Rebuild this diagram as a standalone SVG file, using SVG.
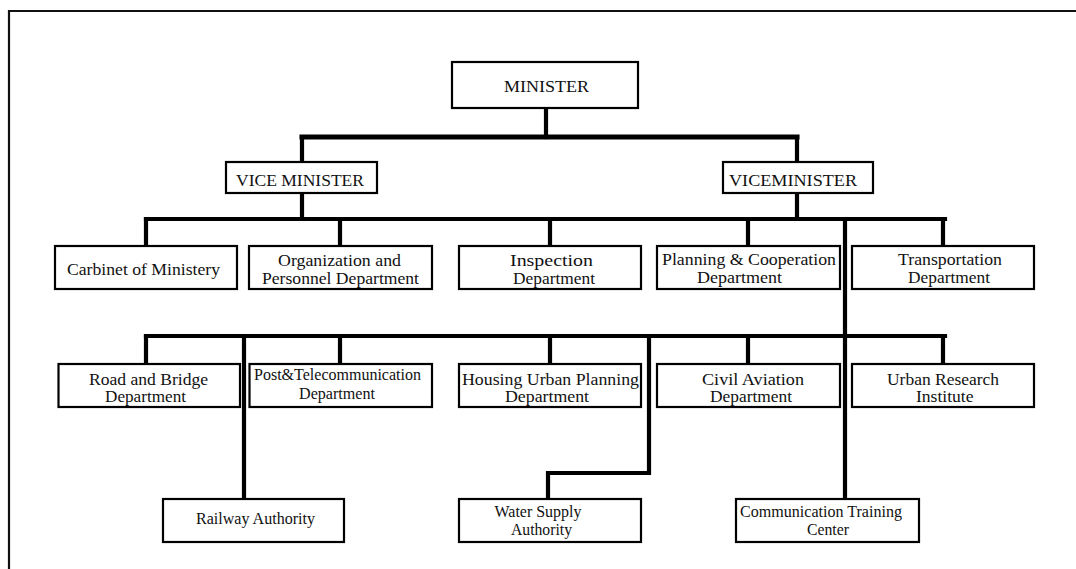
<svg xmlns="http://www.w3.org/2000/svg" width="1076" height="569" viewBox="0 0 1076 569">
  <style>
    .box { fill: #ffffff; stroke: #000000; stroke-width: 2.2; }
    .frame { fill: none; stroke: #111111; stroke-width: 2.2; }
    .link { fill: none; stroke: #000000; stroke-width: 4.2; stroke-linecap: square; stroke-linejoin: miter; }
    .thick { stroke-width: 5; }
    text { font-family: "Liberation Serif", "Times New Roman", serif; font-size: 17px; fill: #111111; }
    .tight { font-size: 16px; }
  </style>

  <rect width="1076" height="569" fill="#ffffff"/>

  <!-- outer frame: top and left edges only -->
  <path class="frame" d="M9,569 V11 H1076"/>

  <!-- connectors -->
  <g id="connectors">
    <path class="link" d="M546,108 V137"/>
    <path class="link thick" d="M302,137 H797"/>
    <path class="link" d="M302,137 V162 M797,137 V162"/>
    <path class="link" d="M302,193 V219 M797,193 V219"/>
    <path class="link" d="M146,219 H945"/>
    <path class="link" d="M146,219 V246 M340,219 V246 M550,219 V246 M748,219 V246 M943,219 V246"/>
    <path class="link" d="M845,219 V499"/>
    <path class="link" d="M146,336 H945"/>
    <path class="link" d="M146,336 V364 M340,336 V364 M550,336 V364 M748,336 V364 M943,336 V364"/>
    <path class="link" d="M244,336 V499"/>
    <path class="link" d="M649,336 V473 H548 V499"/>
  </g>

  <!-- top level -->
  <g id="minister">
    <rect class="box" x="452" y="62" width="186" height="46"/>
    <text x="504" y="92" textLength="85" lengthAdjust="spacingAndGlyphs">MINISTER</text>
  </g>

  <g id="vice-minister-1">
    <rect class="box" x="226" y="162" width="151" height="31"/>
    <text x="236" y="186" textLength="128" lengthAdjust="spacingAndGlyphs">VICE MINISTER</text>
  </g>
  <g id="vice-minister-2">
    <rect class="box" x="723" y="162" width="150" height="31"/>
    <text x="729" y="186" textLength="128" lengthAdjust="spacingAndGlyphs">VICEMINISTER</text>
  </g>

  <!-- second row -->
  <g id="cabinet">
    <rect class="box" x="55" y="246" width="182" height="43"/>
    <text x="67" y="275" textLength="153" lengthAdjust="spacingAndGlyphs">Carbinet of Ministery</text>
  </g>
  <g id="organization">
    <rect class="box" x="249" y="246" width="183" height="43"/>
    <text x="278" y="266" textLength="123" lengthAdjust="spacingAndGlyphs">Organization and</text>
    <text x="262" y="284" textLength="157" lengthAdjust="spacingAndGlyphs">Personnel Department</text>
  </g>
  <g id="inspection">
    <rect class="box" x="459" y="246" width="182" height="43"/>
    <text x="510" y="266" textLength="83" lengthAdjust="spacingAndGlyphs">Inspection</text>
    <text x="513" y="284" textLength="82" lengthAdjust="spacingAndGlyphs">Department</text>
  </g>
  <g id="planning">
    <rect class="box" x="657" y="246" width="183" height="43"/>
    <text x="662" y="265" textLength="174" lengthAdjust="spacingAndGlyphs">Planning &amp; Cooperation</text>
    <text x="697" y="283" textLength="85" lengthAdjust="spacingAndGlyphs">Department</text>
  </g>
  <g id="transportation">
    <rect class="box" x="852" y="246" width="182" height="43"/>
    <text x="898" y="265" textLength="104" lengthAdjust="spacingAndGlyphs">Transportation</text>
    <text x="908" y="283" textLength="82" lengthAdjust="spacingAndGlyphs">Department</text>
  </g>

  <!-- third row -->
  <g id="road-bridge">
    <rect class="box" x="58.5" y="364" width="181.5" height="43"/>
    <text class="tight" x="89" y="384.5" textLength="119" lengthAdjust="spacingAndGlyphs">Road and Bridge</text>
    <text class="tight" x="105" y="402" textLength="81" lengthAdjust="spacingAndGlyphs">Department</text>
  </g>
  <g id="post-telecom">
    <rect class="box" x="249.5" y="364" width="182.5" height="43"/>
    <text x="254" y="380" textLength="167" lengthAdjust="spacingAndGlyphs">Post&amp;Telecommunication</text>
    <text x="299" y="399" textLength="76" lengthAdjust="spacingAndGlyphs">Department</text>
  </g>
  <g id="housing">
    <rect class="box" x="459" y="364" width="182" height="43"/>
    <text class="tight" x="462" y="384.5" textLength="177" lengthAdjust="spacingAndGlyphs">Housing Urban Planning</text>
    <text class="tight" x="505" y="402" textLength="84" lengthAdjust="spacingAndGlyphs">Department</text>
  </g>
  <g id="civil-aviation">
    <rect class="box" x="657" y="364" width="183" height="43"/>
    <text class="tight" x="702" y="384.5" textLength="102" lengthAdjust="spacingAndGlyphs">Civil Aviation</text>
    <text class="tight" x="710" y="402" textLength="82" lengthAdjust="spacingAndGlyphs">Department</text>
  </g>
  <g id="urban-research">
    <rect class="box" x="852" y="364" width="182" height="43"/>
    <text class="tight" x="887" y="384.5" textLength="112" lengthAdjust="spacingAndGlyphs">Urban Research</text>
    <text class="tight" x="916" y="402" textLength="57.5" lengthAdjust="spacingAndGlyphs">Institute</text>
  </g>

  <!-- fourth row -->
  <g id="railway">
    <rect class="box" x="163" y="499" width="181" height="43"/>
    <text x="196" y="524" textLength="119" lengthAdjust="spacingAndGlyphs">Railway Authority</text>
  </g>
  <g id="water-supply">
    <rect class="box" x="459" y="499" width="182" height="43"/>
    <text x="494.5" y="517" textLength="87" lengthAdjust="spacingAndGlyphs">Water Supply</text>
    <text x="511" y="535" textLength="61" lengthAdjust="spacingAndGlyphs">Authority</text>
  </g>
  <g id="comm-training">
    <rect class="box" x="736" y="499" width="183" height="43"/>
    <text x="740" y="517" textLength="162" lengthAdjust="spacingAndGlyphs">Communication Training</text>
    <text x="807" y="535" textLength="42" lengthAdjust="spacingAndGlyphs">Center</text>
  </g>
</svg>
